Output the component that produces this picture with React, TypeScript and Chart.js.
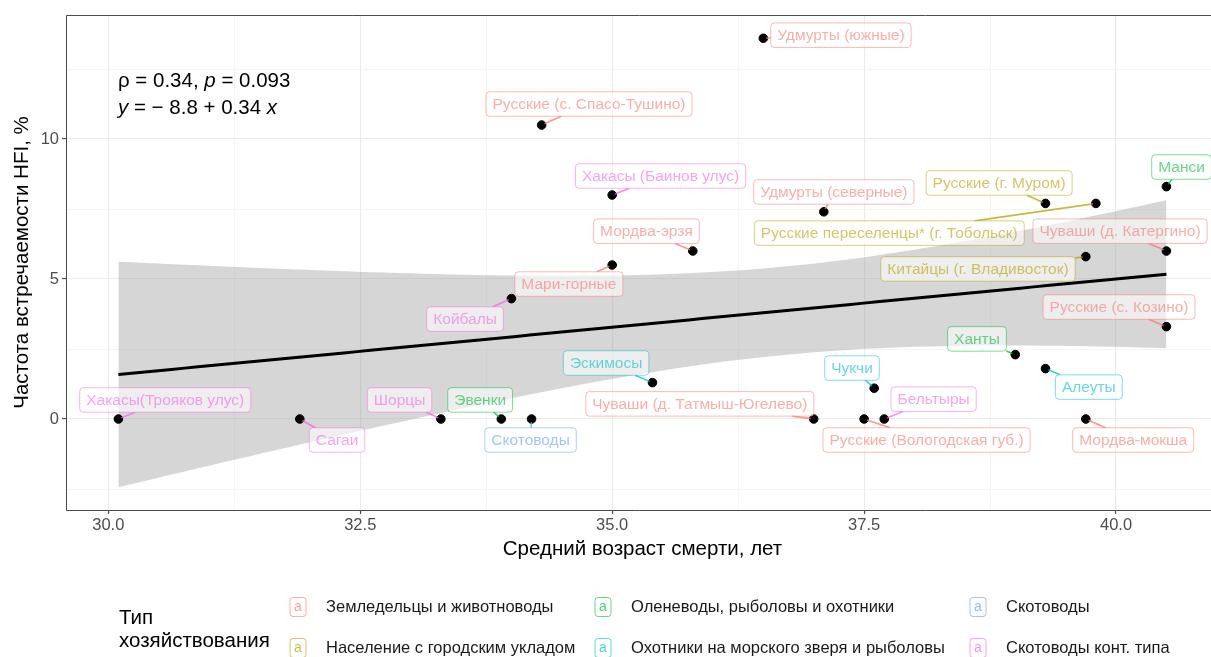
import React, { useEffect, useRef } from 'react';
import { Chart, registerables } from 'chart.js';

Chart.register(...registerables);

const FONT = '"Liberation Sans", Arial, Helvetica, sans-serif';

// ---------- data ----------
const populations = [
  'Хакасы(Трояков улус)',
  'Сагаи',
  'Шорцы',
  'Эвенки',
  'Скотоводы',
  'Койбалы',
  'Мари-горные',
  'Хакасы (Баинов улус)',
  'Мордва-эрзя',
  'Русские (с. Спасо-Тушино)',
  'Удмурты (южные)',
  'Эскимосы',
  'Чуваши (д. Татмыш-Югелево)',
  'Русские (Вологодская губ.)',
  'Бельтыры',
  'Чукчи',
  'Удмурты (северные)',
  'Русские (г. Муром)',
  'Русские переселенцы* (г. Тобольск)',
  'Манси',
  'Чуваши (д. Катергино)',
  'Китайцы (г. Владивосток)',
  'Русские (с. Козино)',
  'Ханты',
  'Алеуты',
  'Мордва-мокша',
];

const meanAgeAtDeath = [
  30.1, 31.9, 33.3, 33.9, 34.2, 34.0, 35.0, 35.0, 35.8, 34.3, 36.5, 35.4, 37.0,
  37.5, 37.7, 37.6, 37.1, 39.3, 39.8, 40.5, 40.5, 39.7, 40.5, 39.0, 39.3, 39.7,
];

const hfiFrequency = [
  0, 0, 0, 0, 0, 4.3, 5.5, 8.0, 6.0, 10.5, 13.6, 1.3, 0, 0, 0, 1.1, 7.4, 7.7,
  7.7, 8.3, 6.0, 5.8, 3.3, 2.3, 1.8, 0,
];

// index into economyTypes
const economyOf = [
  5, 5, 5, 2, 4, 5, 0, 5, 0, 0, 0, 3, 0, 0, 5, 3, 0, 1, 1, 2, 0, 1, 0, 2, 3, 0,
];

const economyTypes = [
  'Земледельцы и животноводы',
  'Население с городским укладом',
  'Оленеводы, рыболовы и охотники',
  'Охотники на морского зверя и рыболовы',
  'Скотоводы',
  'Скотоводы конт. типа',
];
const economyColors = ['#F8766D', '#B79F00', '#00BA38', '#00BFC4', '#619CFF', '#F564E3'];

const xMajorTicks = [30, 32.5, 35, 37.5, 40];
const xMinorTicks = [31.25, 33.75, 36.25, 38.75];
const yMajorTicks = [0, 5, 10];
const yMinorTicks = [-2.5, 2.5, 7.5, 12.5];

const xTitle = 'Средний возраст смерти, лет';
const yTitle = 'Частота встречаемости HFI, %';
const legendTitle = ['Тип', 'хозяйствования'];

const statLine1: [string, boolean][] = [['ρ = 0.34, ', false], ['p', true], [' = 0.093', false]];
const statLine2: [string, boolean][] = [['y', true], [' = − 8.8 + 0.34 ', false], ['x', true]];

// ---------- label layout (repel-like label centres, data units) ----------
const labelCentreX = [
  30.565, 32.27, 32.89, 33.69, 34.19, 33.54, 34.57, 35.48, 35.34, 34.77, 37.27,
  34.94, 35.87, 38.12, 38.19, 37.38, 37.2, 38.84, 37.75, 40.65, 40.04, 38.63,
  40.03, 38.62, 39.73, 40.17,
];
const labelCentreY = [
  0.68, -0.75, 0.68, 0.68, -0.75, 3.57, 4.82, 8.68, 6.71, 11.25, 13.71, 2.0,
  0.54, -0.75, 0.71, 1.82, 8.11, 8.43, 6.64, 9.0, 6.71, 5.36, 4.0, 2.86, 1.14,
  -0.75,
];

// ---------- helpers ----------
function hexA(hex: string, a: number) {
  const r = parseInt(hex.slice(1, 3), 16);
  const g = parseInt(hex.slice(3, 5), 16);
  const b = parseInt(hex.slice(5, 7), 16);
  return `rgba(${r},${g},${b},${a})`;
}

function linearFit(xs: number[], ys: number[]) {
  const n = xs.length;
  const mx = xs.reduce((s, v) => s + v, 0) / n;
  const my = ys.reduce((s, v) => s + v, 0) / n;
  let sxx = 0;
  let sxy = 0;
  for (let i = 0; i < n; i++) {
    sxx += (xs[i] - mx) ** 2;
    sxy += (xs[i] - mx) * (ys[i] - my);
  }
  const b = sxy / sxx;
  const a = my - b * mx;
  let sse = 0;
  for (let i = 0; i < n; i++) sse += (ys[i] - a - b * xs[i]) ** 2;
  const s = Math.sqrt(sse / (n - 2));
  const t = 2.0639; // t(0.975, df = 24)
  const lo = Math.min(...xs);
  const hi = Math.max(...xs);
  const fit: { x: number; y: number }[] = [];
  const upper: { x: number; y: number }[] = [];
  const lower: { x: number; y: number }[] = [];
  const steps = 80;
  for (let k = 0; k < steps; k++) {
    const x0 = lo + ((hi - lo) * k) / (steps - 1);
    const yh = a + b * x0;
    const se = s * Math.sqrt(1 / n + (x0 - mx) ** 2 / sxx);
    fit.push({ x: x0, y: yh });
    upper.push({ x: x0, y: yh + t * se });
    lower.push({ x: x0, y: yh - t * se });
  }
  return { fit, upper, lower };
}

function drawRich(ctx: CanvasRenderingContext2D, parts: [string, boolean][], x: number, y: number, size: number) {
  let cx = x;
  for (const [txt, it] of parts) {
    ctx.font = `${it ? 'italic ' : ''}${size}px ${FONT}`;
    ctx.fillText(txt, cx, y);
    cx += ctx.measureText(txt).width;
  }
}

function roundRect(ctx: CanvasRenderingContext2D, x: number, y: number, w: number, h: number, r: number) {
  ctx.beginPath();
  ctx.moveTo(x + r, y);
  ctx.lineTo(x + w - r, y);
  ctx.arcTo(x + w, y, x + w, y + r, r);
  ctx.lineTo(x + w, y + h - r);
  ctx.arcTo(x + w, y + h, x + w - r, y + h, r);
  ctx.lineTo(x + r, y + h);
  ctx.arcTo(x, y + h, x, y + h - r, r);
  ctx.lineTo(x, y + r);
  ctx.arcTo(x, y, x + r, y, r);
  ctx.closePath();
}

const isMajor = (v: number, majors: number[]) => majors.some((m) => Math.abs(m - v) < 1e-6);

// ---------- plugins ----------
const panelBorderPlugin = {
  id: 'panelBorder',
  afterDatasetsDraw(chart: any) {
    const { ctx, chartArea } = chart;
    ctx.save();
    ctx.strokeStyle = '#4d4d4d';
    ctx.lineWidth = 1;
    ctx.beginPath();
    ctx.moveTo(chartArea.right + 2, Math.round(chartArea.top) + 0.5);
    ctx.lineTo(Math.round(chartArea.left) + 0.5, Math.round(chartArea.top) + 0.5);
    ctx.lineTo(Math.round(chartArea.left) + 0.5, Math.round(chartArea.bottom) + 0.5);
    ctx.lineTo(chartArea.right + 2, Math.round(chartArea.bottom) + 0.5);
    ctx.stroke();
    ctx.restore();
  },
};

const labelsPlugin = {
  id: 'repelLabels',
  afterDatasetsDraw(chart: any) {
    const { ctx } = chart;
    const xs = chart.scales.x;
    const ys = chart.scales.y;
    ctx.save();
    ctx.font = `15.5px ${FONT}`;
    ctx.textBaseline = 'middle';
    ctx.textAlign = 'center';
    const padX = 6.5;
    const h = 24.5;
    for (let i = 0; i < populations.length; i++) {
      const col = economyColors[economyOf[i]];
      const px = xs.getPixelForValue(meanAgeAtDeath[i]);
      const py = ys.getPixelForValue(hfiFrequency[i]);
      const cx = xs.getPixelForValue(labelCentreX[i]);
      const cy = ys.getPixelForValue(labelCentreY[i]);
      const w = ctx.measureText(populations[i]).width + padX * 2;
      const x0 = cx - w / 2;
      const y0 = cy - h / 2;
      // segment from point to box edge
      const dx = cx - px;
      const dy = cy - py;
      const inside = Math.abs(dx) <= w / 2 && Math.abs(dy) <= h / 2;
      if (!inside) {
        const tx = dx !== 0 ? (Math.abs(dx) - w / 2) / Math.abs(dx) : -Infinity;
        const ty = dy !== 0 ? (Math.abs(dy) - h / 2) / Math.abs(dy) : -Infinity;
        const tt = Math.max(tx, ty);
        const ex = px + dx * tt;
        const ey = py + dy * tt;
        const len = Math.hypot(ex - px, ey - py);
        if (len > 4) {
          const sx = px + ((ex - px) / len) * 3;
          const sy = py + ((ey - py) / len) * 3;
          ctx.strokeStyle = hexA(col, 0.75);
          ctx.lineWidth = 1.6;
          ctx.beginPath();
          ctx.moveTo(sx, sy);
          ctx.lineTo(ex, ey);
          ctx.stroke();
        }
      }
      roundRect(ctx, x0, y0, w, h, 3.5);
      ctx.fillStyle = 'rgba(255,255,255,0.6)';
      ctx.fill();
      ctx.strokeStyle = hexA(col, 0.5);
      ctx.lineWidth = 1;
      ctx.stroke();
      ctx.fillStyle = hexA(col, 0.6);
      ctx.fillText(populations[i], cx, cy + 0.5);
    }
    ctx.restore();
  },
};

const decorPlugin = {
  id: 'decor',
  afterDraw(chart: any) {
    const { ctx, chartArea } = chart;
    ctx.save();
    // stat annotation
    ctx.fillStyle = '#000';
    ctx.textBaseline = 'middle';
    ctx.textAlign = 'left';
    drawRich(ctx, statLine1, 118, 81, 20.5);
    drawRich(ctx, statLine2, 118, 108, 20.5);

    // axis titles
    ctx.font = `20.5px ${FONT}`;
    ctx.textAlign = 'center';
    ctx.fillText(xTitle, (chartArea.left + 1219) / 2, 549);
    ctx.save();
    ctx.translate(22, (chartArea.top + chartArea.bottom) / 2);
    ctx.rotate(-Math.PI / 2);
    ctx.fillText(yTitle, 0, 0);
    ctx.restore();

    // legend
    ctx.textAlign = 'left';
    ctx.font = `20.5px ${FONT}`;
    ctx.fillStyle = '#000';
    ctx.fillText(legendTitle[0], 119, 618);
    ctx.fillText(legendTitle[1], 119, 641);
    const colKeyX = [298, 603, 978];
    const rowY = [607, 648];
    for (let k = 0; k < economyTypes.length; k++) {
      const c = Math.floor(k / 2);
      const r = k % 2;
      const kx = colKeyX[c];
      const ky = rowY[r];
      const col = economyColors[k];
      roundRect(ctx, kx - 8, ky - 9.5, 16, 19, 3);
      ctx.fillStyle = '#fff';
      ctx.fill();
      ctx.strokeStyle = hexA(col, 0.6);
      ctx.lineWidth = 1;
      ctx.stroke();
      ctx.fillStyle = hexA(col, 0.7);
      ctx.font = `14px ${FONT}`;
      ctx.textAlign = 'center';
      ctx.fillText('a', kx, ky);
      ctx.textAlign = 'left';
      ctx.fillStyle = '#1a1a1a';
      ctx.font = `16.5px ${FONT}`;
      ctx.fillText(economyTypes[k], kx + 28, ky);
    }
    ctx.restore();
  },
};

export default function App() {
  const ref = useRef<HTMLCanvasElement | null>(null);

  useEffect(() => {
    if (!ref.current) return;
    const band = linearFit(meanAgeAtDeath, hfiFrequency);
    const points = meanAgeAtDeath.map((x, i) => ({ x, y: hfiFrequency[i] }));

    const chart = new Chart(ref.current, {
      type: 'scatter',
      data: {
        datasets: [
          {
            label: 'points',
            data: points,
            backgroundColor: '#000',
            borderColor: '#000',
            pointRadius: 4.3,
            pointHoverRadius: 4.3,
            order: 0,
          },
          {
            label: 'fit',
            data: band.fit,
            showLine: true,
            borderColor: '#000',
            borderWidth: 3,
            pointRadius: 0,
            order: 1,
          },
          {
            label: 'upper',
            data: band.upper,
            showLine: true,
            borderWidth: 0,
            borderColor: 'rgba(0,0,0,0)',
            pointRadius: 0,
            order: 3,
          },
          {
            label: 'lower',
            data: band.lower,
            showLine: true,
            borderWidth: 0,
            borderColor: 'rgba(0,0,0,0)',
            pointRadius: 0,
            fill: { target: 2 },
            backgroundColor: 'rgba(153,153,153,0.4)',
            order: 2,
          },
        ] as any,
      },
      options: {
        animation: false,
        responsive: false,
        maintainAspectRatio: false,
        events: [],
        layout: { autoPadding: false, padding: { top: 15, left: 0, right: 0, bottom: 0 } },
        plugins: {
          legend: { display: false },
          tooltip: { enabled: false },
        },
        scales: {
          x: {
            type: 'linear',
            min: 29.58,
            max: 30 + (1211 - 108) / 100.8,
            afterBuildTicks: (s: any) => {
              s.ticks = [...xMajorTicks, ...xMinorTicks].sort((a, b) => a - b).map((v) => ({ value: v }));
            },
            afterFit: (s: any) => {
              s.height = 147;
            },
            ticks: {
              autoSkip: false,
              maxRotation: 0,
              padding: 2,
              color: '#4d4d4d',
              font: { size: 16.5, family: FONT },
              callback: (v: any) => (isMajor(Number(v), xMajorTicks) ? Number(v).toFixed(1) : ''),
            },
            grid: {
              color: (c: any) => (isMajor(c.tick?.value, xMajorTicks) ? '#EBEBEB' : '#F2F2F2'),
              lineWidth: (c: any) => (isMajor(c.tick?.value, xMajorTicks) ? 1.1 : 0.8),
              tickLength: 4,
              tickColor: (c: any) => (isMajor(c.tick?.value, xMajorTicks) ? '#4d4d4d' : 'rgba(0,0,0,0)'),
              tickWidth: 1.2,
            },
            border: { display: false },
          },
          y: {
            type: 'linear',
            min: -3.25,
            max: 14.43,
            afterBuildTicks: (s: any) => {
              s.ticks = [...yMajorTicks, ...yMinorTicks].sort((a, b) => a - b).map((v) => ({ value: v }));
            },
            afterFit: (s: any) => {
              s.width = 66;
            },
            ticks: {
              autoSkip: false,
              padding: 3,
              color: '#4d4d4d',
              font: { size: 16.5, family: FONT },
              callback: (v: any) => (isMajor(Number(v), yMajorTicks) ? String(v) : ''),
            },
            grid: {
              color: (c: any) => (isMajor(c.tick?.value, yMajorTicks) ? '#EBEBEB' : '#F2F2F2'),
              lineWidth: (c: any) => (isMajor(c.tick?.value, yMajorTicks) ? 1.1 : 0.8),
              tickLength: 4,
              tickColor: (c: any) => (isMajor(c.tick?.value, yMajorTicks) ? '#4d4d4d' : 'rgba(0,0,0,0)'),
              tickWidth: 1.2,
            },
            border: { display: false },
          },
        },
      } as any,
      plugins: [panelBorderPlugin, labelsPlugin, decorPlugin],
    });
    return () => chart.destroy();
  }, []);

  return (
    <div style={{ position: 'absolute', left: 0, top: 0, width: 1211, height: 657, background: '#fff' }}>
      <canvas ref={ref} width={1211} height={657} style={{ width: 1211, height: 657, display: 'block' }} />
    </div>
  );
}
